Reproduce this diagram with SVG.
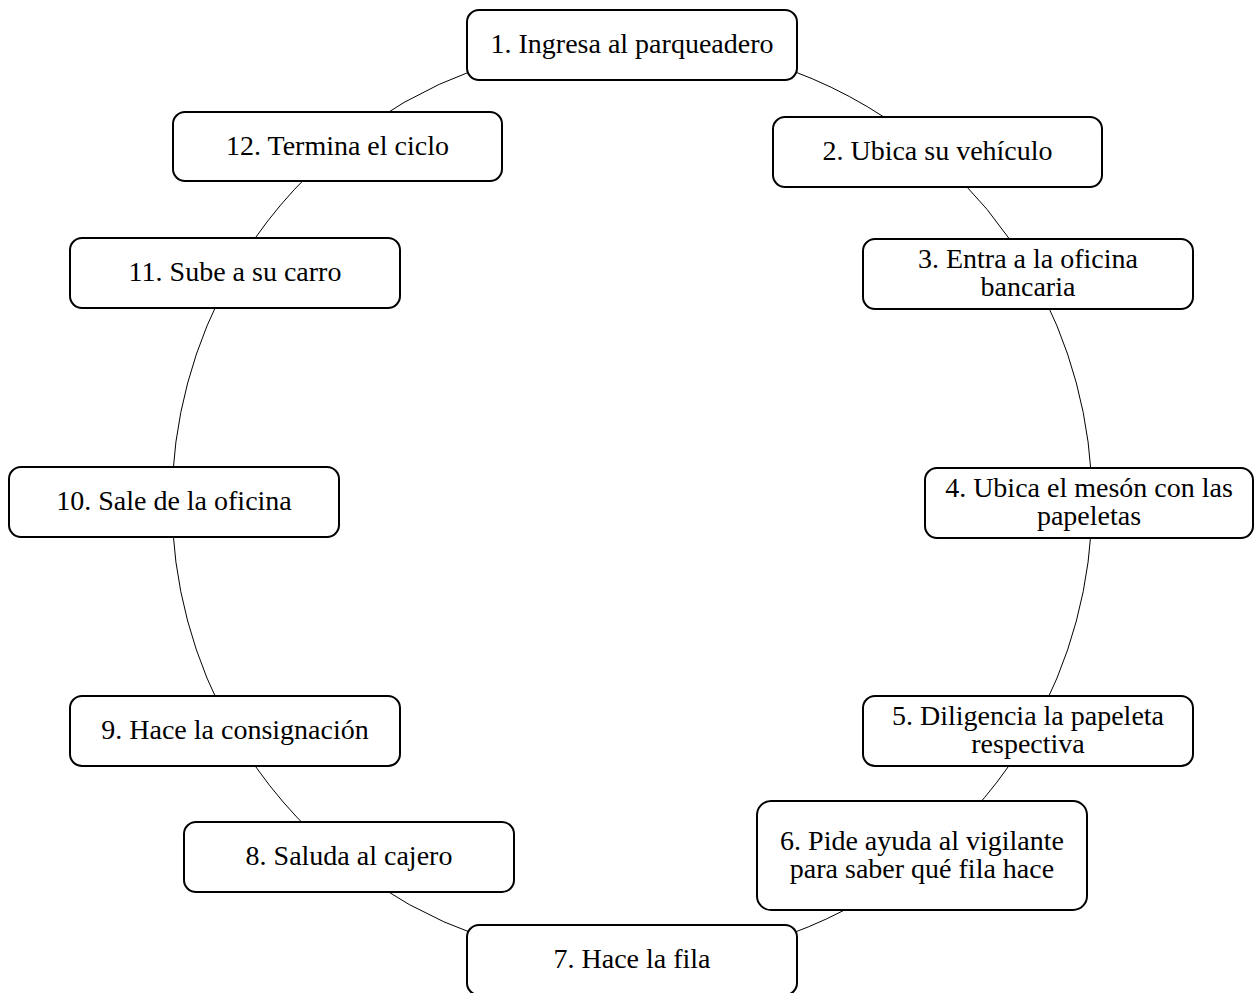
<svg xmlns="http://www.w3.org/2000/svg" width="1256" height="993" viewBox="0 0 1256 993">
  <style>
    .conn { fill: none; stroke: #000; stroke-width: 1; }
    .box { fill: #fff; stroke: #000; stroke-width: 2; }
    .lbl { font-family: "Liberation Serif", "Times New Roman", serif; font-size: 28px; fill: #000; text-anchor: middle; }
  </style>
  <rect width="1256" height="993" fill="#fff"/>

  <!-- circular cycle: arcs on a circle centred at (632,502), r=460 -->
  <g id="connectors">
    <path class="conn" d="M632,42 A460,460 0 0 1 933.8,154.8"/>
    <path class="conn" d="M933.8,154.8 A460,460 0 0 1 1030.4,272"/>
    <path class="conn" d="M1030.4,272 A460,460 0 0 1 1092,502"/>
    <path class="conn" d="M1092,502 A460,460 0 0 1 1030.4,732"/>
    <path class="conn" d="M1030.4,732 A460,460 0 0 1 927.7,854.4"/>
    <path class="conn" d="M927.7,854.4 A460,460 0 0 1 632,962"/>
    <path class="conn" d="M632,962 A460,460 0 0 1 345,861.5"/>
    <path class="conn" d="M345,861.5 A460,460 0 0 1 233.6,732"/>
    <path class="conn" d="M233.6,732 A460,460 0 0 1 172,502"/>
    <path class="conn" d="M172,502 A460,460 0 0 1 233.6,272"/>
    <path class="conn" d="M233.6,272 A460,460 0 0 1 338.8,147.6"/>
    <path class="conn" d="M338.8,147.6 A460,460 0 0 1 632,42"/>
  </g>

  <g id="step1">
    <rect class="box" x="467" y="10" width="330" height="70" rx="12"/>
    <text class="lbl" x="632" y="53">1. Ingresa al parqueadero</text>
  </g>
  <g id="step2">
    <rect class="box" x="773" y="117" width="329" height="70" rx="12"/>
    <text class="lbl" x="937.5" y="160">2. Ubica su vehículo</text>
  </g>
  <g id="step3">
    <rect class="box" x="863" y="239" width="330" height="70" rx="12"/>
    <text class="lbl" x="1028" y="268">3. Entra a la oficina</text>
    <text class="lbl" x="1028" y="296">bancaria</text>
  </g>
  <g id="step4">
    <rect class="box" x="925" y="468" width="328" height="70" rx="12"/>
    <text class="lbl" x="1089" y="497">4. Ubica el mesón con las</text>
    <text class="lbl" x="1089" y="525">papeletas</text>
  </g>
  <g id="step5">
    <rect class="box" x="863" y="696" width="330" height="70" rx="12"/>
    <text class="lbl" x="1028" y="725">5. Diligencia la papeleta</text>
    <text class="lbl" x="1028" y="753">respectiva</text>
  </g>
  <g id="step6">
    <rect class="box" x="757" y="801" width="330" height="109" rx="14"/>
    <text class="lbl" x="922" y="849.5">6. Pide ayuda al vigilante</text>
    <text class="lbl" x="922" y="877.5">para saber qué fila hace</text>
  </g>
  <g id="step7">
    <rect class="box" x="467" y="925" width="330" height="70" rx="12"/>
    <text class="lbl" x="632" y="968">7. Hace la fila</text>
  </g>
  <g id="step8">
    <rect class="box" x="184" y="822" width="330" height="70" rx="12"/>
    <text class="lbl" x="349" y="865">8. Saluda al cajero</text>
  </g>
  <g id="step9">
    <rect class="box" x="70" y="696" width="330" height="70" rx="12"/>
    <text class="lbl" x="235" y="739">9. Hace la consignación</text>
  </g>
  <g id="step10">
    <rect class="box" x="9" y="467" width="330" height="70" rx="12"/>
    <text class="lbl" x="174" y="510">10. Sale de la oficina</text>
  </g>
  <g id="step11">
    <rect class="box" x="70" y="238" width="330" height="70" rx="12"/>
    <text class="lbl" x="235" y="281">11. Sube a su carro</text>
  </g>
  <g id="step12">
    <rect class="box" x="173" y="112" width="329" height="69" rx="12"/>
    <text class="lbl" x="337.5" y="154.5">12. Termina el ciclo</text>
  </g>
</svg>
